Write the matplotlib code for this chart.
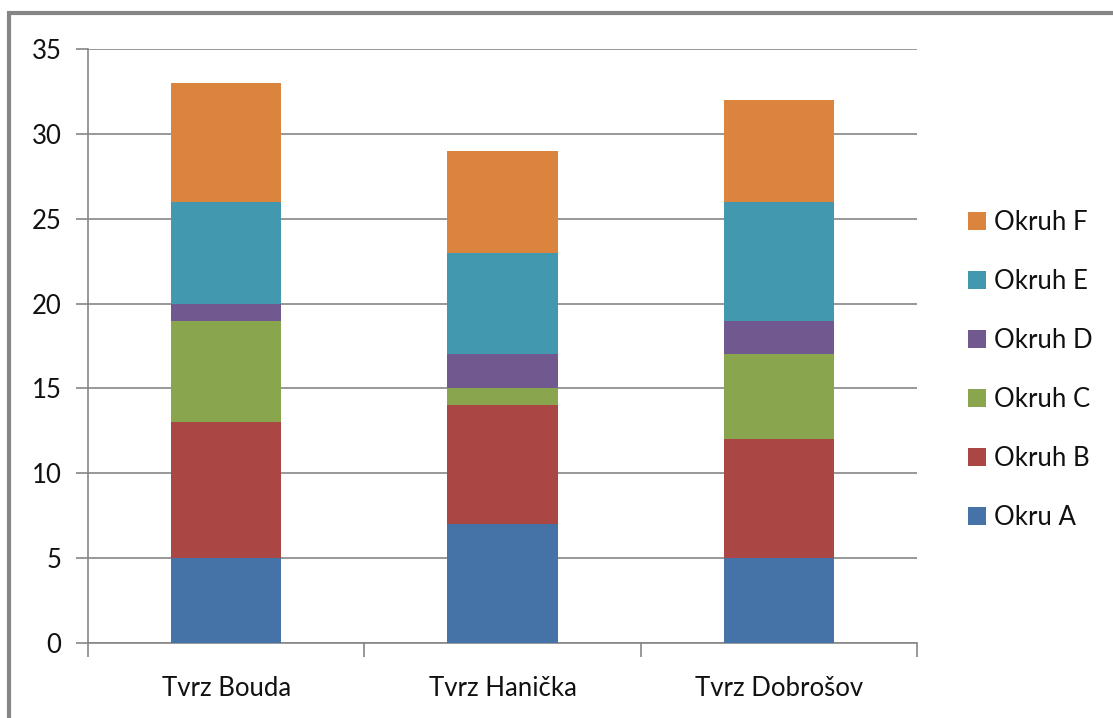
import numpy as np
import matplotlib.pyplot as plt
from matplotlib.patches import Rectangle

categories = ["Tvrz Bouda", "Tvrz Hanička", "Tvrz Dobrošov"]
series_names = ["Okru A", "Okruh B", "Okruh C", "Okruh D", "Okruh E", "Okruh F"]
okruh_a = [5, 7, 5]
okruh_b = [8, 7, 7]
okruh_c = [6, 1, 5]
okruh_d = [1, 2, 2]
okruh_e = [6, 6, 7]
okruh_f = [7, 6, 6]
colors = ["#4572A7", "#AA4643", "#89A54E", "#71588F", "#4198AF", "#DB843D"]

plt.rcParams['font.family'] = ['Lato', 'DejaVu Sans']

fig = plt.figure(figsize=(11.13, 7.18), dpi=100)
ax = fig.add_axes([88/1113, 1 - 643/718, (917 - 88)/1113, (643 - 49)/718])

x = np.arange(len(categories))
bottom = np.zeros(len(categories))
handles = []
for name, vals, c in zip(series_names, [okruh_a, okruh_b, okruh_c, okruh_d, okruh_e, okruh_f], colors):
    b = ax.bar(x, vals, 0.4, bottom=bottom, color=c, label=name, zorder=3)
    handles.append(b)
    bottom += np.array(vals)

ax.set_xlim(-0.5, 2.5)
ax.set_ylim(0, 35)
ax.set_yticks(np.arange(0, 36, 5))
ax.yaxis.grid(True, color="#868686", linewidth=1.2, zorder=0)
for s in ["top", "right"]:
    ax.spines[s].set_visible(False)
for s in ["left", "bottom"]:
    ax.spines[s].set_color("#868686")
    ax.spines[s].set_linewidth(1.2)
ax.tick_params(axis="y", length=9, width=1.2, color="#868686", labelsize=18.5, pad=10, labelcolor="#111111")
ax.set_xticks(x)
ax.set_xticklabels(categories, fontsize=18.5, color="#111111")
ax.tick_params(axis="x", length=0, pad=24)
ax.set_xticks([-0.5, 0.5, 1.5, 2.5], minor=True)
ax.tick_params(axis="x", which="minor", length=10, width=1.2, color="#868686")

leg = fig.legend(handles[::-1], series_names[::-1], loc="center left",
                 bbox_to_anchor=(945/1113, 1 - 370/718), frameon=False, fontsize=18.5,
                 handlelength=0.7, handleheight=0.7, handletextpad=0.3, labelspacing=1.32)
for t in leg.get_texts():
    t.set_color("#111111")

fig.patches.append(Rectangle((9/1113, -0.1), 1.2, 1 - 13/718 + 0.1, transform=fig.transFigure,
                             fill=False, edgecolor="#868686", linewidth=3))

fig.savefig("out.png", dpi=100)
